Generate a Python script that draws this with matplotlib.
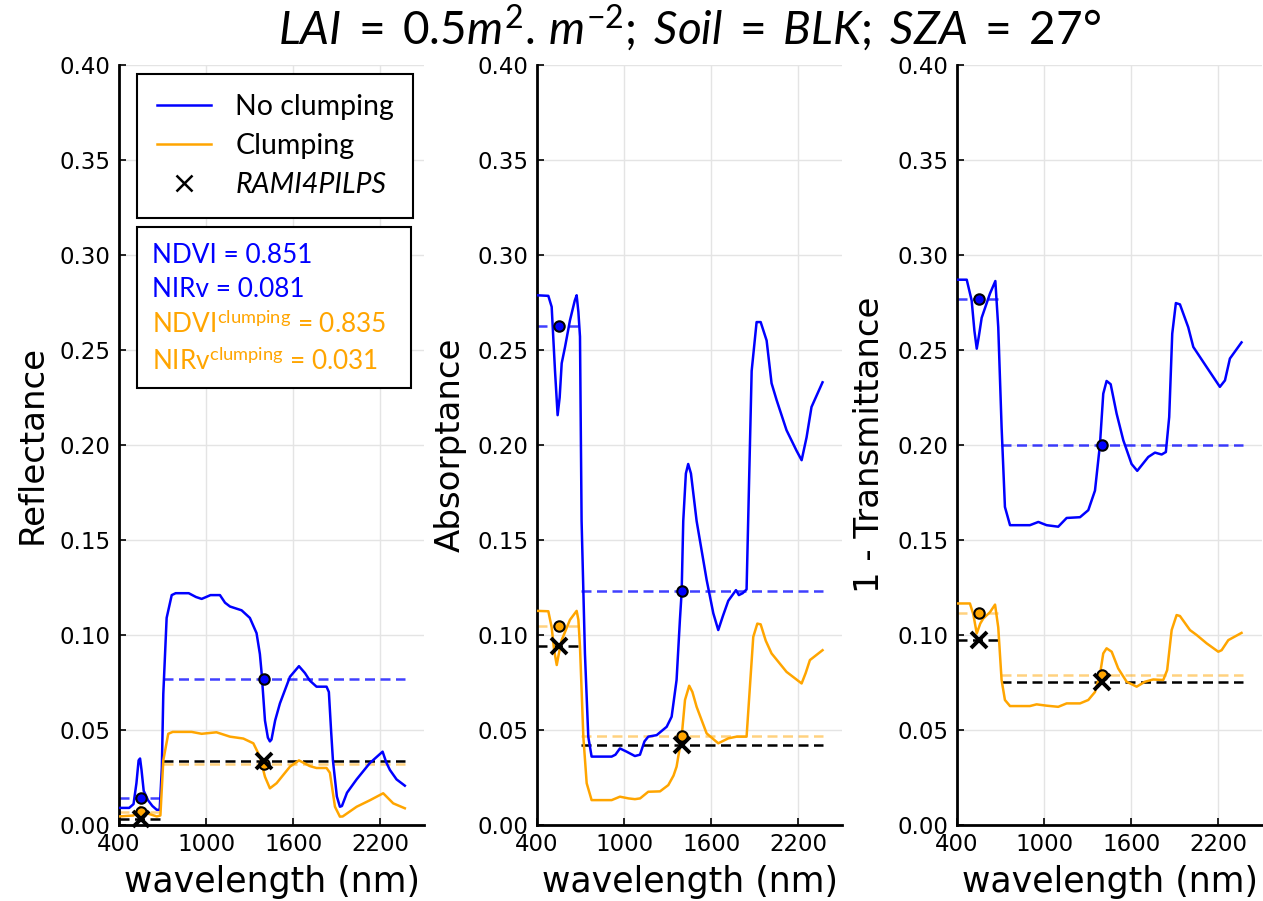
import matplotlib
matplotlib.use("Agg")
import matplotlib.pyplot as plt
from matplotlib.lines import Line2D
from matplotlib.patches import Rectangle

# ---------------- data ----------------
# Reflectance, no clumping
refl_nc_wl = [400, 470, 500, 520, 535, 545, 555, 570, 600, 630, 660, 680, 695, 705, 728, 763, 790, 880,
              930, 969, 1000, 1030, 1095, 1130, 1164, 1244, 1301, 1347, 1370, 1382, 1405, 1425, 1439,
              1450, 1475, 1508, 1577, 1639, 1680, 1714, 1760, 1829, 1845, 1860, 1873, 1900, 1921, 1935,
              1970, 2036, 2127, 2215, 2240, 2265, 2311, 2368]
refl_nc = [0.009, 0.009, 0.011, 0.022, 0.034, 0.035, 0.029, 0.018, 0.013, 0.010, 0.008, 0.008, 0.030,
           0.069, 0.109, 0.121, 0.122, 0.122, 0.120, 0.119, 0.120, 0.121, 0.121, 0.117, 0.115, 0.113,
           0.109, 0.101, 0.090, 0.080, 0.055, 0.046, 0.044, 0.045, 0.055, 0.064, 0.078, 0.0836, 0.080,
           0.076, 0.0728, 0.0728, 0.070, 0.050, 0.034, 0.015, 0.0096, 0.010, 0.017, 0.024, 0.0326,
           0.0386, 0.033, 0.029, 0.024, 0.0207]
# Reflectance, clumping
refl_c_wl = [400, 500, 530, 545, 560, 600, 660, 685, 705, 739, 770, 900, 969, 1071, 1164, 1256, 1325,
             1370, 1405, 1439, 1485, 1577, 1639, 1714, 1760, 1829, 1852, 1887, 1921, 1940, 2036, 2127,
             2219, 2288, 2368]
refl_c = [0.0045, 0.005, 0.008, 0.0095, 0.008, 0.006, 0.0045, 0.005, 0.034, 0.048, 0.049, 0.049, 0.048,
          0.0488, 0.0465, 0.0455, 0.043, 0.036, 0.0254, 0.0193, 0.022, 0.0307, 0.034, 0.031, 0.030, 0.030,
          0.0275, 0.0096, 0.0044, 0.0045, 0.0096, 0.013, 0.0167, 0.0114, 0.0088]

# Absorptance, no clumping
abs_nc_wl = [400, 478, 501, 524, 542, 556, 570, 593, 627, 660, 673, 685, 696, 707, 730, 753, 776, 914,
             940, 971, 1017, 1074, 1109, 1140, 1166, 1224, 1293, 1327, 1361, 1384, 1396, 1407, 1425, 1441,
             1460, 1499, 1568, 1614, 1648, 1680, 1717, 1770, 1790, 1816, 1843, 1860, 1878, 1912, 1940,
             1981, 2015, 2050, 2118, 2187, 2222, 2256, 2290, 2366]
abs_nc = [0.2788, 0.2785, 0.2727, 0.239, 0.2157, 0.225, 0.243, 0.2516, 0.2656, 0.276, 0.2788, 0.270,
          0.257, 0.160, 0.0903, 0.0465, 0.036, 0.036, 0.037, 0.0403, 0.0386, 0.0363, 0.037, 0.044, 0.0465,
          0.0473, 0.0517, 0.057, 0.0763, 0.108, 0.1228, 0.160, 0.185, 0.190, 0.185, 0.160, 0.129, 0.1114,
          0.1026, 0.110, 0.118, 0.1236, 0.121, 0.122, 0.124, 0.180, 0.239, 0.2647, 0.2647, 0.255, 0.2325,
          0.2236, 0.2078, 0.197, 0.192, 0.204, 0.220, 0.233]
# Absorptance, clumping
abs_c_wl = [400, 478, 501, 518, 536, 550, 570, 627, 673, 685, 696, 719, 742, 776, 914, 971, 1030, 1074,
            1110, 1166, 1247, 1304, 1340, 1361, 1396, 1419, 1448, 1470, 1499, 1568, 1648, 1717, 1774,
            1843, 1866, 1889, 1917, 1940, 1975, 2015, 2118, 2222, 2250, 2279, 2366]
abs_c = [0.1127, 0.1125, 0.104, 0.092, 0.0842, 0.090, 0.0973, 0.108, 0.1127, 0.108, 0.0938, 0.0465,
         0.022, 0.0131, 0.0131, 0.0149, 0.014, 0.0136, 0.014, 0.0175, 0.0177, 0.021, 0.026, 0.0307,
         0.0465, 0.0658, 0.0733, 0.070, 0.0622, 0.0482, 0.043, 0.0456, 0.0465, 0.0465, 0.0728, 0.099,
         0.106, 0.1056, 0.097, 0.0903, 0.0806, 0.0745, 0.080, 0.0868, 0.092]

# 1 - Transmittance, no clumping
tr_nc_wl = [400, 467, 501, 520, 536, 550, 570, 627, 664, 684, 707, 730, 765, 902, 960, 1017, 1097, 1155,
            1247, 1304, 1350, 1384, 1407, 1430, 1458, 1499, 1545, 1602, 1641, 1717, 1763, 1809, 1838,
            1861, 1882, 1907, 1935, 1992, 2027, 2119, 2210, 2245, 2279, 2359]
tr_nc = [0.287, 0.287, 0.276, 0.260, 0.2507, 0.257, 0.267, 0.2797, 0.2863, 0.262, 0.2095, 0.1674,
         0.1578, 0.1578, 0.1595, 0.1578, 0.157, 0.1616, 0.162, 0.1657, 0.176, 0.200, 0.227, 0.2337,
         0.232, 0.2165, 0.2025, 0.190, 0.1864, 0.1937, 0.196, 0.195, 0.1963, 0.2147, 0.2586, 0.2747,
         0.274, 0.262, 0.2516, 0.241, 0.2306, 0.234, 0.2455, 0.254]
# 1 - Transmittance, clumping
tr_c_wl = [400, 489, 512, 536, 560, 581, 627, 662, 684, 707, 730, 765, 902, 948, 1017, 1097, 1155, 1247,
           1304, 1350, 1384, 1407, 1430, 1465, 1510, 1568, 1637, 1694, 1751, 1820, 1847, 1878, 1912,
           1935, 2004, 2050, 2119, 2199, 2222, 2268, 2359]
tr_c = [0.1166, 0.1166, 0.111, 0.1008, 0.106, 0.1087, 0.112, 0.116, 0.104, 0.0763, 0.0658, 0.0626,
        0.0626, 0.0635, 0.0628, 0.0622, 0.064, 0.064, 0.0658, 0.070, 0.079, 0.0903, 0.093, 0.0912,
        0.0824, 0.0754, 0.0728, 0.0754, 0.0766, 0.0763, 0.0815, 0.1026, 0.1105, 0.110, 0.1026, 0.100,
        0.0956, 0.0912, 0.092, 0.0973, 0.1011]

# Broadband means: [visible, NIR]
band_vis = [400, 700]
band_nir = [700, 2370]
band_centre = [550, 1395]
refl_band_nc = [0.0142, 0.0768]
refl_band_c = [0.0066, 0.0320]
refl_band_rami = [0.0033, 0.0337]
abs_band_nc = [0.2625, 0.1230]
abs_band_c = [0.1050, 0.0468]
abs_band_rami = [0.0940, 0.0420]
tr_band_nc = [0.2767, 0.2000]
tr_band_c = [0.1115, 0.0790]
tr_band_rami = [0.0973, 0.0752]

ylabels = ["Reflectance", "Absorptance", "1 - Transmittance"]
xticks = [400, 1000, 1600, 2200]
yticks = [0.00, 0.05, 0.10, 0.15, 0.20, 0.25, 0.30, 0.35, 0.40]
legend_labels = ["No clumping", "Clumping", "RAMI4PILPS"]
index_lines = [r"NDVI = 0.851", r"NIRv = 0.081",
               r"NDVI$^{\mathrm{clumping}}$ = 0.835", r"NIRv$^{\mathrm{clumping}}$ = 0.031"]
title = r"$LAI\;=\;0.5m^2.\,m^{-2};\;Soil\;=\;BLK;\;SZA\;=\;27°$"

# ---------------- style ----------------
BLUE = "#0000ff"
ORANGE = "#ffa500"
plt.rcParams["font.family"] = ["DejaVu Sans"]
plt.rcParams["mathtext.fontset"] = "custom"
plt.rcParams["mathtext.rm"] = "Lato"
plt.rcParams["mathtext.it"] = "Lato:italic"
plt.rcParams["mathtext.bf"] = "Lato:bold"

fig = plt.figure(figsize=(12.63, 9.01), dpi=100)
W, H = 1263, 901
x0s = [119, 537, 957]
panels = [
    (refl_nc_wl, refl_nc, refl_c_wl, refl_c, refl_band_nc, refl_band_c, refl_band_rami),
    (abs_nc_wl, abs_nc, abs_c_wl, abs_c, abs_band_nc, abs_band_c, abs_band_rami),
    (tr_nc_wl, tr_nc, tr_c_wl, tr_c, tr_band_nc, tr_band_c, tr_band_rami),
]
axes = []
for i, (x0, p, yl) in enumerate(zip(x0s, panels, ylabels)):
    ax = fig.add_axes([x0 / W, 76 / H, 305 / W, 760 / H])
    axes.append(ax)
    wl_nc, v_nc, wl_c, v_c, b_nc, b_c, b_r = p
    ax.plot(wl_nc, v_nc, color=BLUE, lw=1.8, zorder=3)
    ax.plot(wl_c, v_c, color=ORANGE, lw=1.8, zorder=3)
    dash = dict(lw=1.8, dashes=(4, 2.2))
    for k, band in enumerate([band_vis, band_nir]):
        ax.plot(band, [b_nc[k]] * 2, color=BLUE, alpha=0.75, zorder=2, **dash)
        ax.plot(band, [b_c[k]] * 2, color=ORANGE, alpha=0.5, zorder=2, **dash)
        ax.plot(band, [b_r[k]] * 2, color="black", zorder=2, **dash)
    ax.plot(band_centre, b_nc, ls="none", marker="o", ms=7.5, mfc=BLUE, mec="black",
            mew=1.5, zorder=5, clip_on=False)
    ax.plot(band_centre, b_c, ls="none", marker="o", ms=7.5, mfc=ORANGE, mec="black",
            mew=1.5, zorder=5, clip_on=False)
    ax.plot(band_centre, b_r, ls="none", marker="x", ms=12, mec="black",
            mew=2.8, zorder=6, clip_on=False)

    ax.set_xlim(400, 2500)
    ax.set_ylim(0, 0.40)
    ax.set_xticks(xticks)
    ax.set_yticks(yticks)
    ax.set_yticklabels([f"{t:.2f}" for t in yticks])
    ax.grid(True, color="#e4e4e4", lw=1.0, zorder=0)
    ax.set_axisbelow(True)
    for s in ["top", "right"]:
        ax.spines[s].set_visible(False)
    for s in ["left", "bottom"]:
        ax.spines[s].set_linewidth(2.0)
    ax.tick_params(direction="in", length=5, width=1.2, labelsize=16.5, pad=6)
    ax.set_xlabel("wavelength (nm)", fontsize=25, labelpad=6)
    ax.set_ylabel(yl, fontsize=24.5, labelpad=8)

# Legend
ax = axes[0]
handles = [Line2D([], [], color=BLUE, lw=1.8),
           Line2D([], [], color=ORANGE, lw=1.8),
           Line2D([], [], ls="none", marker="x", color="black", ms=12, mew=1.8)]
leg = ax.legend(handles, legend_labels, loc="upper left",
                bbox_to_anchor=(18 / 305, 750 / 760, 276 / 305, 0.001), mode="expand",
                borderaxespad=0, fancybox=False, framealpha=1, edgecolor="black",
                prop={"family": "Lato", "size": 20.5}, handlelength=1.9, handletextpad=0.85,
                borderpad=0.7, labelspacing=0.45)
leg.get_frame().set_linewidth(1.5)
leg.get_texts()[2].set_fontstyle("italic")

# Index box
ax.add_patch(Rectangle((18 / 305, (825 - 388) / 760), 274 / 305, 161 / 760,
                       transform=ax.transAxes, facecolor="white", edgecolor="black",
                       lw=1.5, zorder=7))
base_px = [263, 297, 333, 370]
colors = [BLUE, BLUE, ORANGE, ORANGE]
for txt, bp, c in zip(index_lines, base_px, colors):
    ax.text(33 / 305, (825 - bp) / 760, txt, transform=ax.transAxes, color=c,
            fontsize=18.8, family="Lato", va="baseline", ha="left", zorder=8)

fig.text(689 / W, 1 - 45 / H, title, ha="center", va="baseline", fontsize=33)

fig.savefig("out.png", dpi=100)
